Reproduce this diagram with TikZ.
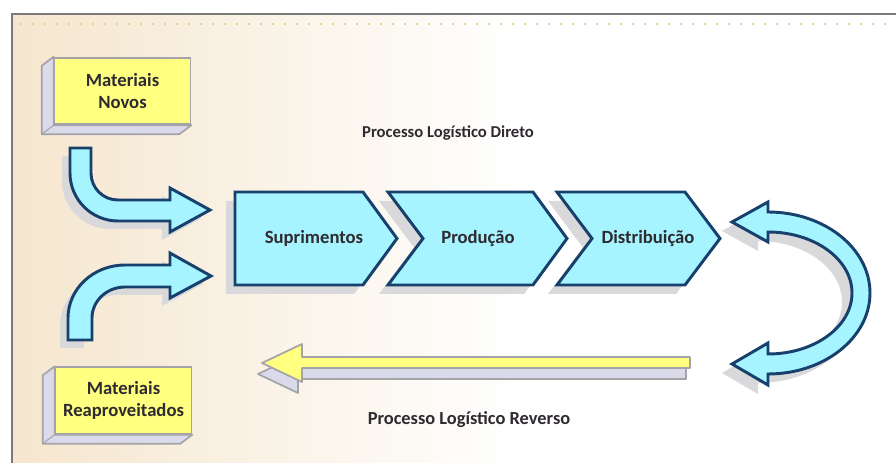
\documentclass[tikz,border=0pt]{standalone}
\usepackage{fontspec}
\setmainfont{Carlito}
\usepackage{tikz}
\definecolor{bgbeige}{HTML}{F5E6CE}
\definecolor{framegrey}{HTML}{7A7A7A}
\definecolor{dotyellow}{HTML}{E3D68C}
\definecolor{cyanfill}{HTML}{A6F4FF}
\definecolor{navy}{HTML}{17406D}
\definecolor{shadowgrey}{HTML}{D9D9DC}
\definecolor{boxyellow}{HTML}{FFFF80}
\definecolor{sidegrey}{HTML}{DADAEA}
\definecolor{edgegrey}{HTML}{A3A3A8}
\definecolor{inkdark}{HTML}{2E2A30}
\newcommand{\lblfont}{\fontsize{14}{16.5}\selectfont\bfseries}
\newcommand{\ttlfont}{\fontsize{12.5}{15}\selectfont\bfseries}
\tikzset{
  shadow/.style={fill=shadowgrey, draw=none},
  chev/.style={fill=cyanfill, draw=navy, line width=2.2pt, line join=miter},
  frontbox/.style={draw=edgegrey, fill=boxyellow, line width=1.3pt,
                   minimum width=102pt, minimum height=50pt, inner sep=0pt,
                   align=center, font=\lblfont, text=inkdark},
  sideface/.style={draw=edgegrey, fill=sidegrey, line width=1.3pt, line join=round},
  topface/.style={draw=edgegrey, fill=boxyellow, line width=1.3pt, line join=round},
  lbl/.style={font=\lblfont, text=inkdark, inner sep=1pt},
  ttl/.style={font=\ttlfont, text=inkdark, inner sep=1pt},
}

\begin{document}
\begin{tikzpicture}[x=0.75pt, y=-0.75pt]
\useasboundingbox (0,0) rectangle (896,473);

% ---------------- frame and background -----------------------------------
\shade[left color=bgbeige, right color=white] (12,14) rectangle (520,463);
\fill[white] (520,14) rectangle (896,463);
\draw[dotyellow, line width=1.2pt, dash pattern=on 1.2pt off 7.8pt] (20,24) -- (896,24);
\draw[framegrey, line width=1.6pt] (12,463) -- (12,14) -- (896,14);

% ---------------- the two material boxes ---------------------------------
\node[frontbox] (novos) at (122.5,91) {};
\node[frontbox] (reap) at (123.5,400.5) {};
\foreach \b in {novos, reap}{
  \draw[sideface] (\b.north west) -- ++(-12,9) |- ([shift={(-12,9)}]\b.south east)
    -- (\b.south east) -- (\b.south west) -- cycle;
  \draw[edgegrey, line width=0.8pt] (\b.south west) -- ++(-12,9);
}
\node[frontbox] at (novos) {Materiais\\Novos};
\node[frontbox] at (reap) {Materiais\\Reaproveitados};

% ---------------- curved inflow arrows -----------------------------------
\foreach \sx/\sy/\sty in {-8/8/shadow, 0/0/chev}{
  \path[\sty, shift={(\sx,\sy)}] (70,148) -- (91,148) -- (91,173)
    .. controls (91,188) and (103,200) .. (118,200) -- (170,200)
    -- (170,188) -- (210,210) -- (170,232) -- (170,221) -- (118,221)
    .. controls (91.5,221) and (70,199.5) .. (70,173) -- cycle;
  \path[\sty, shift={(\sx,\sy)}] (68,340) -- (68,318)
    .. controls (68,288.7) and (93.5,265) .. (125,265) -- (170,265)
    -- (170,253) -- (211,276) -- (170,298) -- (170,287) -- (125,287)
    .. controls (106.8,287) and (92,300.9) .. (92,318) -- (92,340) -- cycle;
}

% ---------------- forward chain ------------------------------------------
\foreach \sx/\sy/\sty in {-9/9/shadow, 0/0/chev}{
  \path[\sty, shift={(\sx,\sy)}] (235,192) -- (363,192) -- (397,238.5)
    -- (363,285) -- (235,285) -- cycle;
  \path[\sty, shift={(\sx,\sy)}] (388,192) -- (533,192) -- (567,238.5)
    -- (533,285) -- (388,285) -- (423,238.5) -- cycle;
  \path[\sty, shift={(\sx,\sy)}] (557,192) -- (685,192) -- (720,238.5)
    -- (685,285) -- (557,285) -- (592,238.5) -- cycle;
}
\node[lbl] (sup) at (314,238) {Suprimentos};
\node[lbl] (prod) at (478,239) {Produção};
\node[lbl] (dist) at (648,239) {Distribuição};
\node[ttl] (direto) at (448,133) {Processo Logístico Direto};

% ---------------- return loop --------------------------------------------
\foreach \sx/\sy/\sty in {-10/9/shadow, 0/0/chev}{
  \path[\sty, shift={(\sx,\sy)}] (768,212)
    .. controls (824.3,212) and (870,248.3) .. (870,293)
    .. controls (870,337.7) and (824.3,374) .. (768,374)
    -- (768,385) -- (732,364) -- (768,343) -- (768,354)
    .. controls (814.4,354) and (852,326.7) .. (852,293)
    .. controls (852,259.3) and (814.4,232) .. (768,232)
    -- (768,242) -- (732,222) -- (768,202) -- cycle;
}

% ---------------- reverse flow -------------------------------------------
\path[sideface, shift={(-4,11)}] (262,363) -- (302,344) -- (302,357) -- (690,357)
  -- (690,368) -- (302,368) -- (302,382) -- cycle;
\path[topface] (262,363) -- (302,344) -- (302,357) -- (690,357)
  -- (690,368) -- (302,368) -- (302,382) -- cycle;
\node[ttl, font=\fontsize{13.8}{16}\selectfont\bfseries] (reverso) at (469,420)
  {Processo Logístico Reverso};
\end{tikzpicture}
\end{document}
